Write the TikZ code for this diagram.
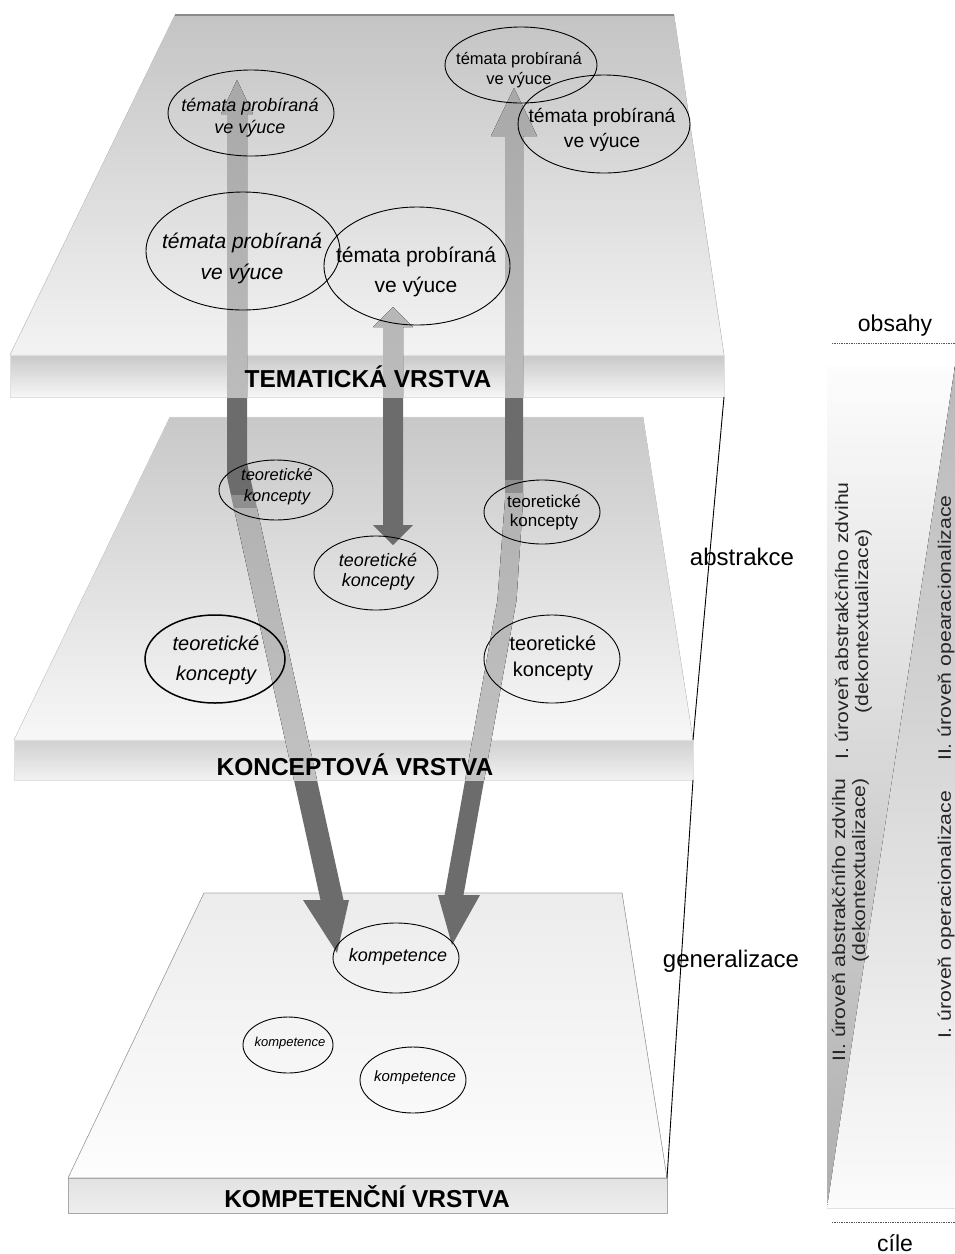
\documentclass[tikz,border=0pt]{standalone}
\usepackage{fontspec}
\setmainfont{Liberation Sans}
\usepackage{graphicx}
\usetikzlibrary{shapes.geometric}
\definecolor{arrDark}{HTML}{6C6C6C}
\definecolor{arrTopA}{HTML}{A4A4A4}
\definecolor{arrTopB}{HTML}{BCBCBC}
\definecolor{arrMidA}{HTML}{B2B2B2}
\definecolor{arrMidB}{HTML}{C2C2C2}
\definecolor{tfA}{HTML}{C4C4C4}
\definecolor{tfB}{HTML}{F3F3F3}
\definecolor{tsA}{HTML}{C9C9C9}
\definecolor{tsM}{HTML}{DCDCDC}
\definecolor{tsB}{HTML}{F6F6F6}
\definecolor{mfA}{HTML}{C8C8C8}
\definecolor{mfB}{HTML}{F7F7F7}
\definecolor{msA}{HTML}{D0D0D0}
\definecolor{msB}{HTML}{F2F2F2}
\definecolor{bfA}{HTML}{ECECEC}
\definecolor{bfB}{HTML}{FDFDFD}
\definecolor{bsA}{HTML}{E2E2E2}
\definecolor{bsB}{HTML}{EEEEEE}
\definecolor{edge}{HTML}{A8A8A8}
\definecolor{topedge}{HTML}{8A8A8A}
\definecolor{wlA}{HTML}{FDFDFD}
\definecolor{wlM}{HTML}{EFEFEF}
\definecolor{wlB}{HTML}{ADADAD}
\definecolor{wrA}{HTML}{B8B8B8}
\definecolor{wrM}{HTML}{DCDCDC}
\definecolor{wrB}{HTML}{FBFBFB}
\definecolor{dotc}{HTML}{555555}
\newcommand\polyA{(237,80) -- (253,114) -- (247,114) -- (247,463) -- (343.5,900) -- (349,900) -- (337,953) -- (303,900) -- (320.5,900) -- (227,477) -- (227,114) -- (221,114) -- cycle}
\newcommand\polyB{(393,307) -- (413,327) -- (403,327) -- (403,525) -- (413,525) -- (393,545) -- (373,525) -- (383,525) -- (383,327) -- (373,327) -- cycle}
\newcommand\polyC{(514,88) -- (537,136) -- (523,136) -- (523,500) -- (516.5,600) -- (463.5,895) -- (480,895) -- (452,945) -- (438,895) -- (444.5,895) -- (497.5,600) -- (505,500) -- (505,136) -- (491,136) -- cycle}
\begin{document}
\begin{tikzpicture}[x=1pt,y=-1pt,
  ell/.style={draw=black, line width=0.9pt, ellipse, inner sep=0pt},
  txt/.style={inner sep=0pt, align=center, text=black},
  title/.style={inner sep=0pt, text=black, font=\fontsize{24.5}{28}\selectfont\bfseries},
  lbl/.style={inner sep=0pt, text=black, font=\fontsize{24}{28}\selectfont},
  rot/.style={inner sep=0pt, text=black!85, font=\fontsize{18}{20}\selectfont},
  dotline/.style={dotc, line width=1pt, dash pattern=on 0.8pt off 0.9pt}]
\fill[white] (0,0) rectangle (955,1254);
\useasboundingbox (0,0) rectangle (955,1254);

% ---- right strip wedges
\fill[top color=wlA, middle color=wlM, bottom color=wlB] (827,366) -- (955,366) -- (827,1208) -- cycle;
\fill[top color=wrA, middle color=wrM, bottom color=wrB] (955,366) -- (955,1208) -- (827,1208) -- cycle;

% ---- bottom plate
\filldraw[draw=edge, line width=0.6pt, top color=bfA, bottom color=bfB] (204,893) -- (622,893) -- (667,1178) -- (68,1178) -- cycle;
\filldraw[draw=edge, line width=0.6pt, top color=bsA, bottom color=bsB] (68,1178) rectangle (667,1213);

% ---- middle plate
\filldraw[draw=black!15, line width=0.5pt, top color=mfA, bottom color=mfB] (170,417) -- (643,417) -- (693,740) -- (14,740) -- cycle;
\filldraw[draw=black!12, line width=0.5pt, top color=msA, bottom color=msB] (14,740) rectangle (693,780);

% ---- top plate
\filldraw[draw=black!18, line width=0.5pt, top color=tfA, bottom color=tfB] (175,15) -- (674,15) -- (724,355) -- (10,355) -- cycle;
\filldraw[draw=black!12, line width=0.5pt, top color=tsA, middle color=tsM, bottom color=tsB] (10,355) rectangle (724,397);
\draw[topedge, line width=2.5pt] (175,15) -- (674,15);

% ---- arrows (dark)
\fill[arrDark] \polyA;
\fill[arrDark] \polyB;
\fill[arrDark] \polyC;
% light parts over the top plate
\begin{scope}
  \clip \polyA \polyB \polyC;
  \fill[top color=arrTopA, bottom color=arrTopB] (0,15) rectangle (955,397);
\end{scope}
% light parts over the middle plate
\begin{scope}
  \clip \polyA;
  \fill[arrMidA, fill opacity=0.5] (0,495) rectangle (955,508);
  \fill[top color=arrMidA, bottom color=arrMidB] (0,508) rectangle (955,780);
\end{scope}
\begin{scope}
  \clip \polyC;
  \fill[arrMidA, fill opacity=0.5] (0,480) rectangle (955,493);
  \fill[top color=arrMidA, bottom color=arrMidB] (0,493) rectangle (955,780);
\end{scope}

% ---- connecting lines at the right
\coordinate (tBR) at (724,397);
\coordinate (mBRt) at (693,740);
\coordinate (mBRb) at (693,780);
\coordinate (bBR) at (667,1178);
\draw[black, line width=0.9pt] (tBR) -- (mBRt);
\draw[black, line width=0.9pt] (mBRb) -- (bBR);

% ---- thematic layer ellipses
\node[ell, minimum width=166pt, minimum height=86pt] (e1) at (251,113) {};
\node[txt, font=\fontsize{18}{22}\selectfont\itshape] (e1t) at (250,118) {témata probíraná\\ve výuce};
\node[ell, minimum width=194pt, minimum height=118pt] (e2) at (243,251) {};
\node[txt, font=\fontsize{21}{31}\selectfont\itshape] (e2t) at (242,258) {témata probíraná\\ve výuce};
\node[ell, minimum width=186pt, minimum height=118pt] (e3) at (417,266) {};
\node[txt, font=\fontsize{21}{30}\selectfont] (e3t) at (416,272) {témata probíraná\\ve výuce};
\node[ell, minimum width=152pt, minimum height=76pt] (e4) at (521,65) {};
\node[txt, font=\fontsize{16.5}{20.5}\selectfont] (e4t) at (519,70) {témata probíraná\\ve výuce};
\node[ell, minimum width=172pt, minimum height=98pt] (e5) at (604,124) {};
\node[txt, font=\fontsize{19.3}{25}\selectfont] (e5t) at (602,130) {témata probíraná\\ve výuce};

% ---- concept layer ellipses
\node[ell, minimum width=114pt, minimum height=60pt] (m1) at (276,490) {};
\node[txt, font=\fontsize{16.5}{21}\selectfont\itshape] (m1t) at (277,487) {teoretické\\koncepty};
\node[ell, minimum width=124pt, minimum height=74pt] (m2) at (376,573) {};
\node[txt, font=\fontsize{18}{20}\selectfont\itshape] (m2t) at (378,572) {teoretické\\koncepty};
\node[ell, minimum width=116pt, minimum height=64pt] (m3) at (542,512) {};
\node[txt, font=\fontsize{17}{19}\selectfont] (m3t) at (544,512) {teoretické\\koncepty};
\node[ell, line width=1.5pt, minimum width=140pt, minimum height=88pt] (m4) at (215,659) {};
\node[txt, font=\fontsize{20}{30}\selectfont\itshape] (m4t) at (216,660) {teoretické\\koncepty};
\node[ell, minimum width=136pt, minimum height=88pt] (m5) at (552,659) {};
\node[txt, font=\fontsize{20}{26}\selectfont] (m5t) at (553,658) {teoretické\\koncepty};

% ---- competence layer ellipses
\node[ell, minimum width=126pt, minimum height=70pt] (k1) at (396,958) {};
\node[txt, font=\fontsize{18}{22}\selectfont\itshape] (k1t) at (398,957) {kompetence};
\node[ell, minimum width=90pt, minimum height=56pt] (k2) at (288,1045) {};
\node[txt, font=\fontsize{13}{16}\selectfont\itshape] (k2t) at (290,1043) {kompetence};
\node[ell, minimum width=106pt, minimum height=66pt] (k3) at (413,1080) {};
\node[txt, font=\fontsize{15}{18}\selectfont\itshape] (k3t) at (415,1078) {kompetence};

% ---- layer titles
\node[title] (t1) at (368,377) {TEMATICKÁ VRSTVA};
\node[title] (t2) at (355,765) {KONCEPTOVÁ VRSTVA};
\node[title] (t3) at (367,1197) {KOMPETENČNÍ VRSTVA};

% ---- side labels
\node[lbl] (abs) at (742,557) {abstrakce};
\node[lbl] (gen) at (731,961) {generalizace};
\node[lbl, font=\fontsize{23}{26}\selectfont] (obs) at (895,326) {obsahy};
\node[lbl, font=\fontsize{23}{26}\selectfont] (cil) at (895,1243) {cíle};
\coordinate (o1) at (832,343);
\coordinate (o2) at (955,343);
\coordinate (c1) at (832,1222);
\coordinate (c2) at (955,1222);
\draw[dotline] (o1) -- (o2);
\draw[dotline] (c1) -- (c2);

% ---- rotated level texts
\node[rot, rotate=90] (r1) at (854,621) {\scalebox{1.18}[1]{\begin{tabular}{@{}c@{}}I. úroveň abstrakčního zdvihu\\(dekontextualizace)\end{tabular}}};
\node[rot, rotate=90, anchor=east] (r2) at (851,778) {\scalebox{1.18}[1]{\begin{tabular}{@{}r@{}}II. úroveň abstrakčního zdvihu\\(dekontextualizace)\end{tabular}}};
\node[rot, rotate=90] (r3) at (946,628) {\scalebox{1.18}[1]{II. úroveň opearacionalizace}};
\node[rot, rotate=90] (r4) at (946,915) {\scalebox{1.18}[1]{I. úroveň operacionalizace}};
\end{tikzpicture}
\end{document}
